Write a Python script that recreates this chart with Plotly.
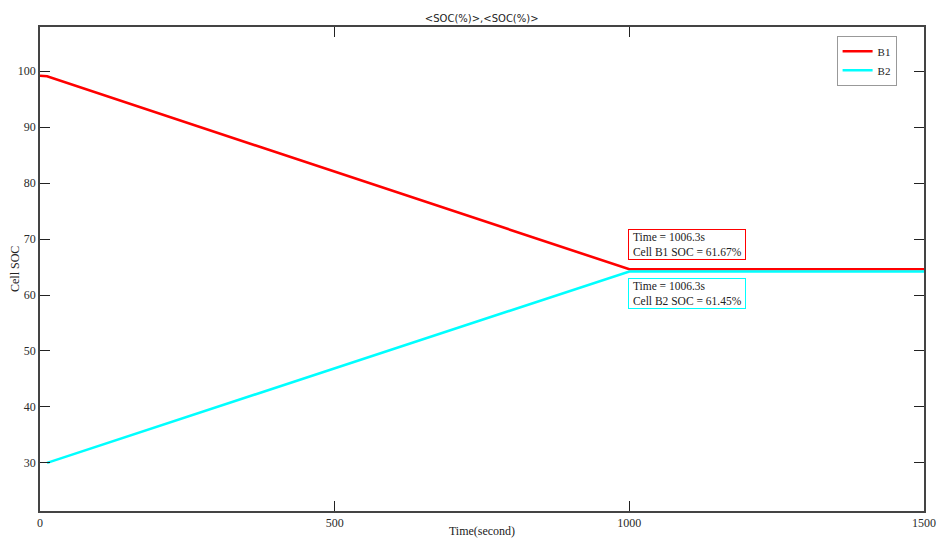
import plotly.graph_objects as go

# Data
b1_time = [0, 12, 1000, 1500]
b1_soc = [99.2, 99.1, 64.6, 64.6]
b2_time = [12, 1000, 1500]
b2_soc = [30.0, 64.2, 64.2]

x_ticks = [0, 500, 1000, 1500]
y_ticks = [30, 40, 50, 60, 70, 80, 90, 100]

ann1_text = "&nbsp;Time = 1006.3s&nbsp;<br>&nbsp;Cell B1 SOC = 61.67%&nbsp;"
ann2_text = "&nbsp;Time = 1006.3s&nbsp;<br>&nbsp;Cell B2 SOC = 61.45%&nbsp;"

serif = "Liberation Serif"

fig = go.Figure()
fig.add_trace(go.Scatter(x=b1_time, y=b1_soc, mode="lines", name="B1",
                         line=dict(color="#ff0000", width=2.6)))
fig.add_trace(go.Scatter(x=b2_time, y=b2_soc, mode="lines", name="B2",
                         line=dict(color="#00ffff", width=2.6)))

axis_common = dict(
    showline=True, linecolor="#444444", linewidth=1.5, mirror="ticks",
    ticks="inside", ticklen=10, tickcolor="#222222", tickwidth=1.3,
    showgrid=False, zeroline=False, automargin=False,
    tickfont=dict(family=serif, size=12, color="#2a2a2a"),
)

fig.update_xaxes(range=[0, 1500], tickvals=x_ticks,
                 title=dict(text="Time(second)", font=dict(family=serif, size=12, color="#222222"), standoff=0),
                 **axis_common)
fig.update_yaxes(range=[21.4, 107.9], tickvals=y_ticks, **axis_common)

# y-axis title placed as a rotated annotation to match the reference position
fig.add_annotation(x=-25 / 884, y=0.5, xref="paper", yref="paper",
                   xanchor="center", yanchor="middle", textangle=-90,
                   text="Cell SOC", showarrow=False,
                   font=dict(family=serif, size=12, color="#222222"))

fig.add_annotation(x=997, y=71.8, xref="x", yref="y", xanchor="left", yanchor="top",
                   text=ann1_text, align="left", showarrow=False,
                   font=dict(family=serif, size=11.5, color="#222222"),
                   bordercolor="#ff0000", borderwidth=1, borderpad=1, bgcolor="white")
fig.add_annotation(x=997, y=63.0, xref="x", yref="y", xanchor="left", yanchor="top",
                   text=ann2_text, align="left", showarrow=False,
                   font=dict(family=serif, size=11.5, color="#222222"),
                   bordercolor="#00ffff", borderwidth=1, borderpad=1, bgcolor="white")

fig.update_layout(
    width=939, height=538,
    margin=dict(l=40, r=15, t=27, b=27),
    paper_bgcolor="white", plot_bgcolor="white",
    title=dict(text="&lt;SOC(%)&gt;,&lt;SOC(%)&gt;", x=0.513, xanchor="center",
               y=1 - 18 / 538, yanchor="middle", yref="container",
               font=dict(family="DejaVu Sans", size=10, color="#222222")),
    showlegend=True,
    legend=dict(x=0.969, y=0.982, xanchor="right", yanchor="top",
                bordercolor="#999999", borderwidth=1, bgcolor="white",
                font=dict(family=serif, size=11, color="#222222"),
                itemwidth=30, tracegroupgap=0),
)

fig.write_html("out.html",
               config={"displayModeBar": False},
               post_script="document.body.style.margin='0';document.body.style.overflow='hidden';")
